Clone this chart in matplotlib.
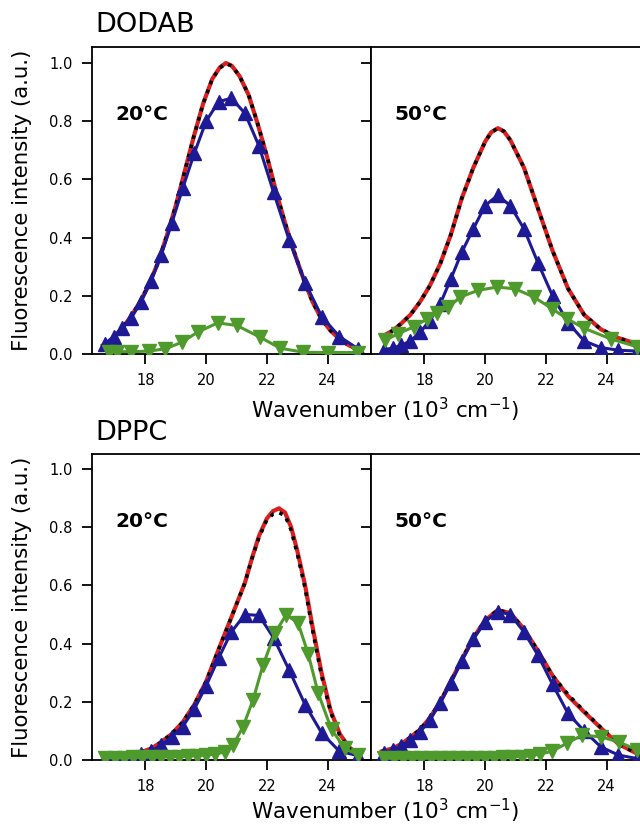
import matplotlib
matplotlib.use("Agg")
import matplotlib.pyplot as plt

# wavenumbers (10^3 cm^-1) of the blue component markers
wn_blue = [16.67, 16.95, 17.24, 17.54, 17.86, 18.18, 18.52, 18.87, 19.23, 19.61, 20.00,
           20.41, 20.83, 21.28, 21.74, 22.22, 22.73, 23.26, 23.81, 24.39, 25.00]

# DODAB 20C
a_fit_x = [16.6, 16.9, 17.2, 17.5, 17.8, 18.1, 18.4, 18.7, 19.0, 19.3, 19.6, 19.9, 20.2, 20.45, 20.65,
           20.85, 21.1, 21.4, 21.7, 22.0, 22.3, 22.6, 22.9, 23.2, 23.5, 23.8, 24.1, 24.4, 24.7, 25.0]
a_red = [0.03, 0.05, 0.085, 0.125, 0.175, 0.235, 0.31, 0.405, 0.51, 0.63, 0.75, 0.86, 0.945, 0.985, 1.0,
         0.99, 0.955, 0.89, 0.79, 0.68, 0.56, 0.45, 0.35, 0.26, 0.18, 0.12, 0.08, 0.05, 0.03, 0.015]
a_black = [0.03, 0.05, 0.085, 0.125, 0.175, 0.235, 0.31, 0.405, 0.51, 0.63, 0.75, 0.86, 0.945, 0.983, 0.998,
           0.99, 0.955, 0.89, 0.79, 0.68, 0.56, 0.45, 0.35, 0.26, 0.18, 0.12, 0.08, 0.05, 0.03, 0.015]
a_blue = [0.035, 0.06, 0.09, 0.125, 0.18, 0.25, 0.34, 0.45, 0.57, 0.69, 0.80,
          0.867, 0.879, 0.827, 0.715, 0.556, 0.393, 0.245, 0.128, 0.06, 0.018]
a_green_x = [16.81, 17.07, 17.54, 18.13, 18.66, 19.19, 19.72, 20.38, 21.01, 21.77, 22.44, 23.2, 24.03, 24.99]
a_green = [0.006, 0.008, 0.008, 0.01, 0.018, 0.04, 0.075, 0.107, 0.098, 0.058, 0.02, 0.006, 0.005, 0.005]

# DODAB 50C
b_fit_x = [16.6, 16.95, 17.24, 17.54, 17.86, 18.18, 18.52, 18.87, 19.23, 19.61, 20.0, 20.2, 20.42, 20.62,
           20.83, 21.28, 21.74, 22.22, 22.73, 23.26, 23.81, 24.39, 25.0, 25.45]
b_red = [0.06, 0.08, 0.105, 0.135, 0.18, 0.235, 0.31, 0.41, 0.535, 0.64, 0.73, 0.762, 0.776, 0.765,
         0.735, 0.64, 0.5, 0.355, 0.225, 0.135, 0.085, 0.055, 0.035, 0.025]
b_black = [0.06, 0.08, 0.105, 0.135, 0.18, 0.235, 0.31, 0.41, 0.535, 0.64, 0.73, 0.762, 0.776, 0.765,
           0.735, 0.64, 0.5, 0.355, 0.225, 0.135, 0.085, 0.055, 0.035, 0.025]
b_blue = [0.015, 0.02, 0.03, 0.045, 0.075, 0.115, 0.172, 0.258, 0.35, 0.43, 0.51,
          0.545, 0.51, 0.43, 0.313, 0.2, 0.108, 0.045, 0.022, 0.013, 0.01]
b_green_x = [16.7, 17.14, 17.64, 18.08, 18.4, 18.79, 19.18, 19.78, 20.39, 20.99, 21.6, 22.2, 22.7, 23.25, 24.13, 25.0, 25.45]
b_green = [0.047, 0.07, 0.093, 0.12, 0.14, 0.16, 0.196, 0.219, 0.23, 0.224, 0.196, 0.156, 0.121, 0.089, 0.052, 0.025, 0.018]

# DPPC 20C
c_fit_x = [16.6, 17.2, 17.8, 18.2, 18.5, 18.87, 19.23, 19.61, 20.0, 20.41, 20.83, 21.28, 21.5, 21.74,
           22.0, 22.2, 22.4, 22.6, 22.8, 23.0, 23.26, 23.5, 23.8, 24.1, 24.4, 24.7, 25.0]
c_red = [0.012, 0.015, 0.025, 0.04, 0.06, 0.09, 0.13, 0.19, 0.27, 0.38, 0.49, 0.61, 0.69, 0.77,
         0.83, 0.855, 0.865, 0.85, 0.80, 0.72, 0.60, 0.46, 0.30, 0.17, 0.09, 0.045, 0.02]
c_black = [0.012, 0.015, 0.025, 0.04, 0.06, 0.09, 0.13, 0.19, 0.27, 0.38, 0.49, 0.61, 0.69, 0.765,
           0.825, 0.845, 0.85, 0.84, 0.79, 0.71, 0.59, 0.45, 0.29, 0.165, 0.085, 0.04, 0.02]
c_blue = [0.005, 0.005, 0.008, 0.012, 0.02, 0.03, 0.05, 0.08, 0.115, 0.175, 0.255,
          0.35, 0.44, 0.50, 0.497, 0.42, 0.31, 0.19, 0.092, 0.03, 0.015]
c_green_x = [16.67, 17.0, 17.3, 17.6, 17.9, 18.2, 18.5, 18.8, 19.1, 19.4, 19.7, 20.0, 20.3, 20.61, 20.88,
             21.21, 21.54, 21.87, 22.26, 22.64, 23.03, 23.36, 23.69, 24.13, 24.57, 25.0]
c_green = [0.008, 0.008, 0.008, 0.009, 0.009, 0.01, 0.01, 0.011, 0.012, 0.013, 0.015, 0.017, 0.02, 0.028, 0.05,
           0.113, 0.205, 0.325, 0.435, 0.5, 0.47, 0.365, 0.23, 0.105, 0.04, 0.018]

# DPPC 50C
d_fit_x = [16.6, 16.95, 17.24, 17.54, 17.86, 18.18, 18.52, 18.87, 19.23, 19.61, 20.0, 20.41, 20.83,
           21.28, 21.74, 22.22, 22.73, 23.26, 23.81, 24.39, 25.0, 25.45]
d_red = [0.03, 0.04, 0.055, 0.078, 0.105, 0.145, 0.2, 0.27, 0.345, 0.42, 0.48, 0.515, 0.505,
         0.45, 0.375, 0.29, 0.22, 0.165, 0.11, 0.055, 0.022, 0.01]
d_black = [0.03, 0.04, 0.055, 0.078, 0.105, 0.145, 0.2, 0.27, 0.345, 0.42, 0.48, 0.515, 0.505,
           0.45, 0.375, 0.29, 0.225, 0.168, 0.112, 0.055, 0.022, 0.01]
d_blue = [0.025, 0.035, 0.048, 0.07, 0.097, 0.137, 0.195, 0.265, 0.34, 0.415, 0.475,
          0.51, 0.50, 0.44, 0.36, 0.26, 0.16, 0.10, 0.045, 0.017, 0.005]
d_green_x = [16.67, 17.0, 17.3, 17.6, 17.9, 18.2, 18.5, 18.8, 19.1, 19.4, 19.7, 20.0, 20.3, 20.6, 20.9,
             21.2, 21.5, 21.8, 22.2, 22.7, 23.19, 23.8, 24.4, 25.0, 25.45]
d_green = [0.006, 0.006, 0.006, 0.006, 0.006, 0.006, 0.006, 0.006, 0.007, 0.007, 0.007, 0.008, 0.008, 0.009, 0.01,
           0.012, 0.015, 0.02, 0.03, 0.058, 0.085, 0.08, 0.062, 0.035, 0.02]

temps = ["20°C", "50°C", "20°C", "50°C"]
panels = [
    (a_fit_x, a_red, a_black, a_blue, a_green_x, a_green),
    (b_fit_x, b_red, b_black, b_blue, b_green_x, b_green),
    (c_fit_x, c_red, c_black, c_blue, c_green_x, c_green),
    (d_fit_x, d_red, d_black, d_blue, d_green_x, d_green),
]

RED = "#d9201f"
BLUE = "#1e1a96"
GREEN = "#4f9a2c"

fig = plt.figure(figsize=(6.4, 8.26), dpi=100)

w = 279 / 640
positions = [
    [92 / 640, 1 - 354 / 826, w, 307 / 826],
    [371 / 640, 1 - 354 / 826, w, 307 / 826],
    [92 / 640, 1 - 760 / 826, w, 306 / 826],
    [371 / 640, 1 - 760 / 826, w, 306 / 826],
]

for i, (pos, p) in enumerate(zip(positions, panels)):
    fx, red, black, blue, gx, green = p
    ax = fig.add_axes(pos)
    ax.plot(fx, red, color=RED, lw=3, zorder=2)
    ax.plot(fx, black, color="black", lw=2.6, ls=":", zorder=3)
    ax.plot(wn_blue, blue, color=BLUE, lw=2.2, marker="^", ms=10.5, mec=BLUE, zorder=4)
    ax.plot(gx, green, color=GREEN, lw=2.2, marker="v", ms=10.5, mec=GREEN, zorder=5)

    ax.set_xlim(16.24, 25.43)
    ax.set_ylim(0, pos[3] * 826 / 291)
    ax.set_xticks([18, 20, 22, 24])
    ax.set_yticks([0, 0.2, 0.4, 0.6, 0.8, 1.0])
    ax.set_yticklabels(["0.0", "0.2", "0.4", "0.6", "0.8", "1.0"])
    ax.tick_params(direction="out", length=7, width=1.3, labelsize=10.5, pad=7)
    if i % 2 == 1:
        ax.tick_params(labelleft=False)
    for s in ax.spines.values():
        s.set_linewidth(1.3)
    ax.text(0.085, 0.78, temps[i], transform=ax.transAxes, fontsize=14.5,
            fontweight="bold", va="center", ha="left")

fig.text(95 / 640, 1 - 25 / 826, "DODAB", fontsize=19.5, va="center", ha="left")
fig.text(95 / 640, 1 - 433 / 826, "DPPC", fontsize=19.5, va="center", ha="left")

for yc in [(47 + 354) / 2, (454 + 760) / 2]:
    fig.text(22 / 640, 1 - yc / 826, "Fluorescence intensity (a.u.)", rotation=90,
             fontsize=15.3, va="center", ha="center")

fig.text(385 / 640, 1 - 410 / 826, "Wavenumber (10$^3$ cm$^{-1}$)", fontsize=15.5,
         va="center", ha="center")
fig.text(385 / 640, 1 - 811 / 826, "Wavenumber (10$^3$ cm$^{-1}$)", fontsize=15.5,
         va="center", ha="center")

fig.savefig("out.png", dpi=100)
